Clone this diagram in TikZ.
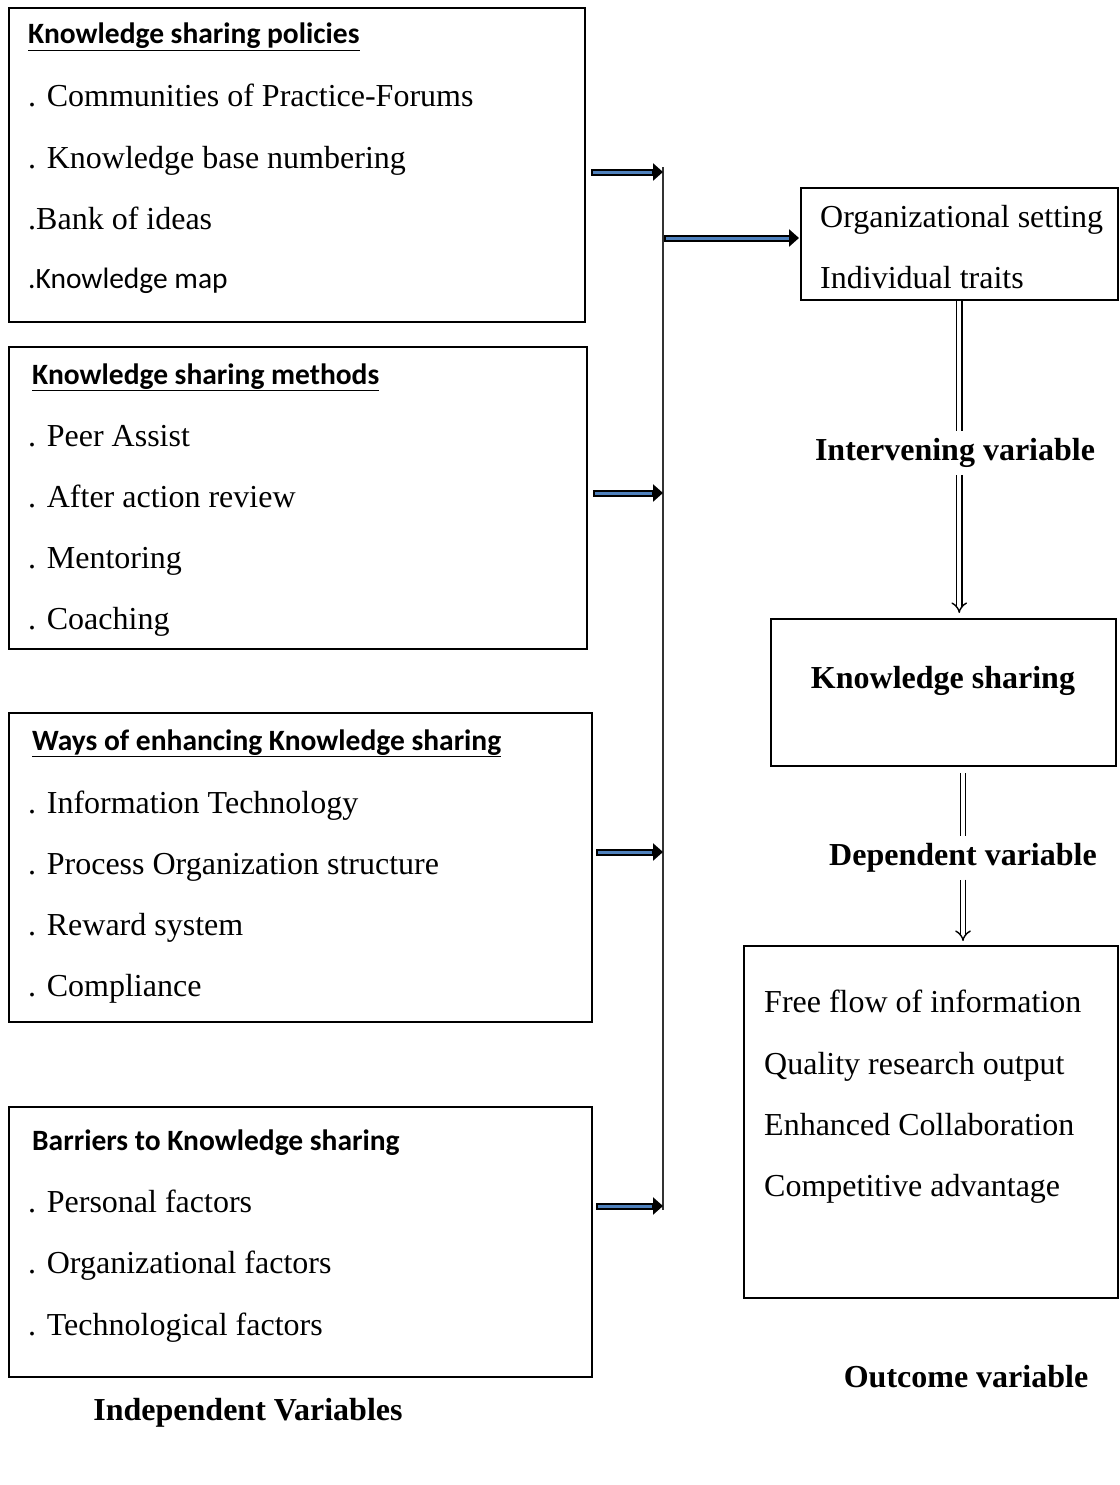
\documentclass[tikz,border=0pt]{standalone}
\usepackage{fontspec}
\setmainfont{Liberation Serif}
\newfontfamily\calibrifont{Carlito}
\usetikzlibrary{arrows.meta,calc}
\definecolor{arrowblue}{RGB}{79,129,189}

\begin{document}
\begin{tikzpicture}[x=1pt,y=-1pt,
    box/.style={draw, line width=2pt, anchor=north west, inner sep=0pt},
    item/.style={anchor=base west, inner sep=0pt, font=\fontsize{32}{38}\selectfont},
    head/.style={anchor=base west, inner sep=0pt, font=\calibrifont\bfseries\fontsize{29.5}{35}\selectfont},
    note/.style={anchor=base west, inner sep=0pt, font=\calibrifont\fontsize{29.5}{35}\selectfont},
    varlabel/.style={inner sep=7pt, font=\bfseries\fontsize{32}{38}\selectfont},
    busline/.style={draw=black!80, line width=1.5pt},
    bluearr/.style={draw=black, line width=7pt, -{Triangle[length=10pt,width=17pt]},
        postaction={draw=arrowblue, line width=3pt, shorten <=2pt, shorten >=11pt, -}},
    dblline/.style={double, line width=1.4pt, double distance=4pt},
    dblarr/.style={dblline, -{Implies[scale=1.7]}}]
    \useasboundingbox (0,0) rectangle (1119,1485);

    % independent variables
    \node[box, minimum width=576pt, minimum height=314pt] (pol) at (8,7) {};
    \node[head] (polh) at (28,44) {\underline{Knowledge sharing policies}};
    \node[item] (pol1) at (28,107) {. Communities of Practice-Forums};
    \node[item] (pol2) at (28,168) {. Knowledge base numbering};
    \node[item] (pol3) at (28,229) {.Bank of ideas};
    \node[note] (pol4) at (28,288) {.Knowledge map};

    \node[box, minimum width=578pt, minimum height=302pt] (met) at (8,346) {};
    \node[head] (meth) at (32,384) {\underline{Knowledge sharing methods}};
    \node[item] (met1) at (28,446) {. Peer Assist};
    \node[item] (met2) at (28,507) {. After action review};
    \node[item] (met3) at (28,568) {. Mentoring};
    \node[item] (met4) at (28,629) {. Coaching};

    \node[box, minimum width=583pt, minimum height=309pt] (way) at (8,712) {};
    \node[head] (wayh) at (32,750) {\underline{Ways of enhancing Knowledge sharing}};
    \node[item] (way1) at (28,813) {. Information Technology};
    \node[item] (way2) at (28,874) {. Process Organization structure};
    \node[item] (way3) at (28,935) {. Reward system};
    \node[item] (way4) at (28,996) {. Compliance};

    \node[box, minimum width=583pt, minimum height=270pt] (bar) at (8,1106) {};
    \node[head] (barh) at (32,1150) {Barriers to Knowledge sharing};
    \node[item] (bar1) at (28,1212) {. Personal factors};
    \node[item] (bar2) at (28,1273) {. Organizational factors};
    \node[item] (bar3) at (28,1335) {. Technological factors};

    \node[varlabel] (indep) at (248,1413) {Independent Variables};

    % bus line with the four inputs
    \coordinate (bustop) at (663,167);
    \coordinate (busbot) at (663,1210);
    \coordinate (j1) at (663,172);
    \coordinate (j2) at (663,493);
    \coordinate (j3) at (663,852);
    \coordinate (j4) at (663,1206);
    \coordinate (j0) at (664,238);
    \draw[busline] (bustop) -- (busbot);
    \draw[bluearr] ($(pol.east |- j1)+(5,0)$) -- (j1);
    \draw[bluearr] ($(met.east |- j2)+(5,0)$) -- (j2);
    \draw[bluearr] ($(way.east |- j3)+(3,0)$) -- (j3);
    \draw[bluearr] ($(bar.east |- j4)+(3,0)$) -- (j4);

    % right column
    \node[box, line width=1.5pt, minimum width=317pt, minimum height=112pt] (org) at (800,187) {};
    \node[item] (org1) at (820,227) {Organizational setting};
    \node[item] (org2) at (820,288) {Individual traits};
    \draw[bluearr, shorten >=1pt] (j0) -- (org.west |- j0);

    \node[varlabel] (iv) at (955,453) {Intervening variable};
    \draw[dblline] (org.south) -- (org.south |- iv.north);
    \draw[dblarr, shorten >=5pt] (iv.south -| org.south) -- (org.south |- 0,618);

    \node[box, minimum width=345pt, minimum height=147pt] (ks) at (770,618) {};
    \node[varlabel] (kst) at (943,681) {Knowledge sharing};

    \node[varlabel] (dep) at (963,858) {Dependent variable};
    \draw[dblline, shorten <=6pt] (ks.south -| dep.north) -- (dep.north);

    \node[box, line width=1.5pt, minimum width=374pt, minimum height=352pt] (out) at (743,945) {};
    \node[item] (out1) at (764,1012) {Free flow of information};
    \node[item] (out2) at (764,1074) {Quality research output};
    \node[item] (out3) at (764,1135) {Enhanced Collaboration};
    \node[item] (out4) at (764,1196) {Competitive advantage};
    \draw[dblarr, shorten >=4pt] (dep.south) -- (out.north -| dep.south);

    \node[varlabel] (outv) at (966,1377) {Outcome variable};
\end{tikzpicture}
\end{document}
